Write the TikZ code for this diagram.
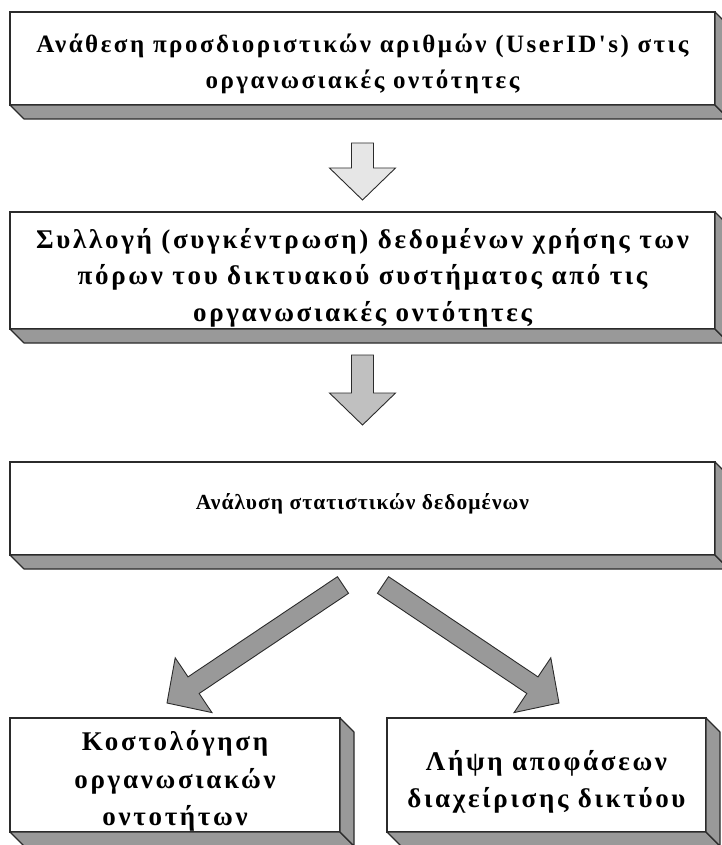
\documentclass[tikz,border=0pt]{standalone}
\usepackage{fontspec}
\usetikzlibrary{calc}
\newfontfamily\boxfont{Liberation Serif}[LetterSpace=10]
\newfontfamily\boxfonttight{Liberation Serif}[LetterSpace=5]

\definecolor{edge}{HTML}{2B2B2B}
\definecolor{depth}{HTML}{999999}
\definecolor{arrowlight}{HTML}{E6E6E6}
\definecolor{arrowmid}{HTML}{C0C0C0}
\definecolor{arrowdark}{HTML}{999999}

% block arrow: style, tail, tip, name
\newcommand\blockarrow[4]{%
  \coordinate (#4-b) at ($(#3)!32pt!(#2)$);
  \draw[#1]
    ($(#2)!\shaftw!90:(#3)$) -- ($(#4-b)!\shaftw!90:(#3)$) --
    ($(#4-b)!33pt!90:(#3)$) -- (#3) --
    ($(#4-b)!33pt!-90:(#3)$) -- ($(#4-b)!\shaftw!-90:(#3)$) --
    ($(#2)!\shaftw!-90:(#3)$) -- cycle;}
\newcommand\shaftw{11pt}

\begin{document}
\begin{tikzpicture}[x=1pt,y=-1pt,
  frontbox/.style={draw=edge,line width=1.1pt,fill=white,inner sep=0pt,outer sep=0pt},
  boxtext/.style={inner sep=0pt,align=center,font=\boxfont\bfseries},
  sideface/.style={draw=edge,line width=1.1pt,fill=depth,line join=round},
  blockarr/.style={draw=edge,line width=0.9pt,line join=miter}]
\useasboundingbox (0,0) rectangle (721,845);

% boxes (front faces)
\node[frontbox,minimum width=705pt,minimum height=93pt]  (b1) at (362.5,58.5) {};
\node[frontbox,minimum width=705pt,minimum height=117pt] (b2) at (362.5,270.5) {};
\node[frontbox,minimum width=705pt,minimum height=93pt]  (b3) at (362.5,508.5) {};
\node[frontbox,minimum width=330pt,minimum height=114pt] (b4) at (175,775) {};
\node[frontbox,minimum width=319pt,minimum height=114pt] (b5) at (546.5,775) {};

% extruded bottom and right faces
\foreach \n in {b1,b2,b3,b4,b5}{
  \draw[sideface] (\n.south west) -- (\n.south east) -- ([shift={(14,14)}]\n.south east)
    -- ([shift={(14,14)}]\n.south west) -- cycle;
  \draw[sideface] (\n.north east) -- ([shift={(14,14)}]\n.north east)
    -- ([shift={(14,14)}]\n.south east) -- (\n.south east) -- cycle;
}

% box texts
\node[boxtext,font=\boxfont\bfseries\fontsize{25}{36}\selectfont] (t1) at ([yshift=-5pt]b1.center)
  {Ανάθεση προσδιοριστικών αριθμών (UserID's) στις\\οργανωσιακές οντότητες};
\node[boxtext,font=\boxfont\bfseries\fontsize{27}{36.5}\selectfont] (t2) at ([yshift=-7pt]b2.center)
  {Συλλογή (συγκέντρωση) δεδομένων χρήσης των\\πόρων του δικτυακού συστήματος από τις\\οργανωσιακές οντότητες};
\node[boxtext,font=\boxfonttight\bfseries\fontsize{21.5}{30}\selectfont] (t3) at ([yshift=5pt]b3.center)
  {Ανάλυση στατιστικών δεδομένων};
\node[boxtext,font=\boxfont\bfseries\fontsize{27}{37.5}\selectfont] (t4) at ([yshift=-6pt]b4.center)
  {Κοστολόγηση\\οργανωσιακών\\οντοτήτων};
\node[boxtext,font=\boxfont\bfseries\fontsize{27}{37}\selectfont] (t5) at ([yshift=-7pt]b5.center)
  {Λήψη αποφάσεων\\διαχείρισης δικτύου};

% connectors
\coordinate (a1t) at ([yshift=-38pt]b1.south);
\coordinate (a1p) at ([yshift=12pt]b2.north);
\blockarrow{blockarr,fill=arrowlight}{a1t}{a1p}{a1}
\coordinate (a2t) at ([yshift=-26pt]b2.south);
\coordinate (a2p) at ([yshift=37pt]b3.north);
\blockarrow{blockarr,fill=arrowmid}{a2t}{a2p}{a2}
\renewcommand\shaftw{10pt}
\coordinate (a3t) at ([xshift=-19.5pt,yshift=-30pt]b3.south);
\coordinate (a3p) at ([xshift=-8pt,yshift=15pt]b4.north);
\blockarrow{blockarr,fill=arrowdark}{a3t}{a3p}{a3}
\coordinate (a4t) at ([xshift=20.5pt,yshift=-30pt]b3.south);
\coordinate (a4p) at ([xshift=12.5pt,yshift=15pt]b5.north);
\blockarrow{blockarr,fill=arrowdark}{a4t}{a4p}{a4}
\end{tikzpicture}
\end{document}
